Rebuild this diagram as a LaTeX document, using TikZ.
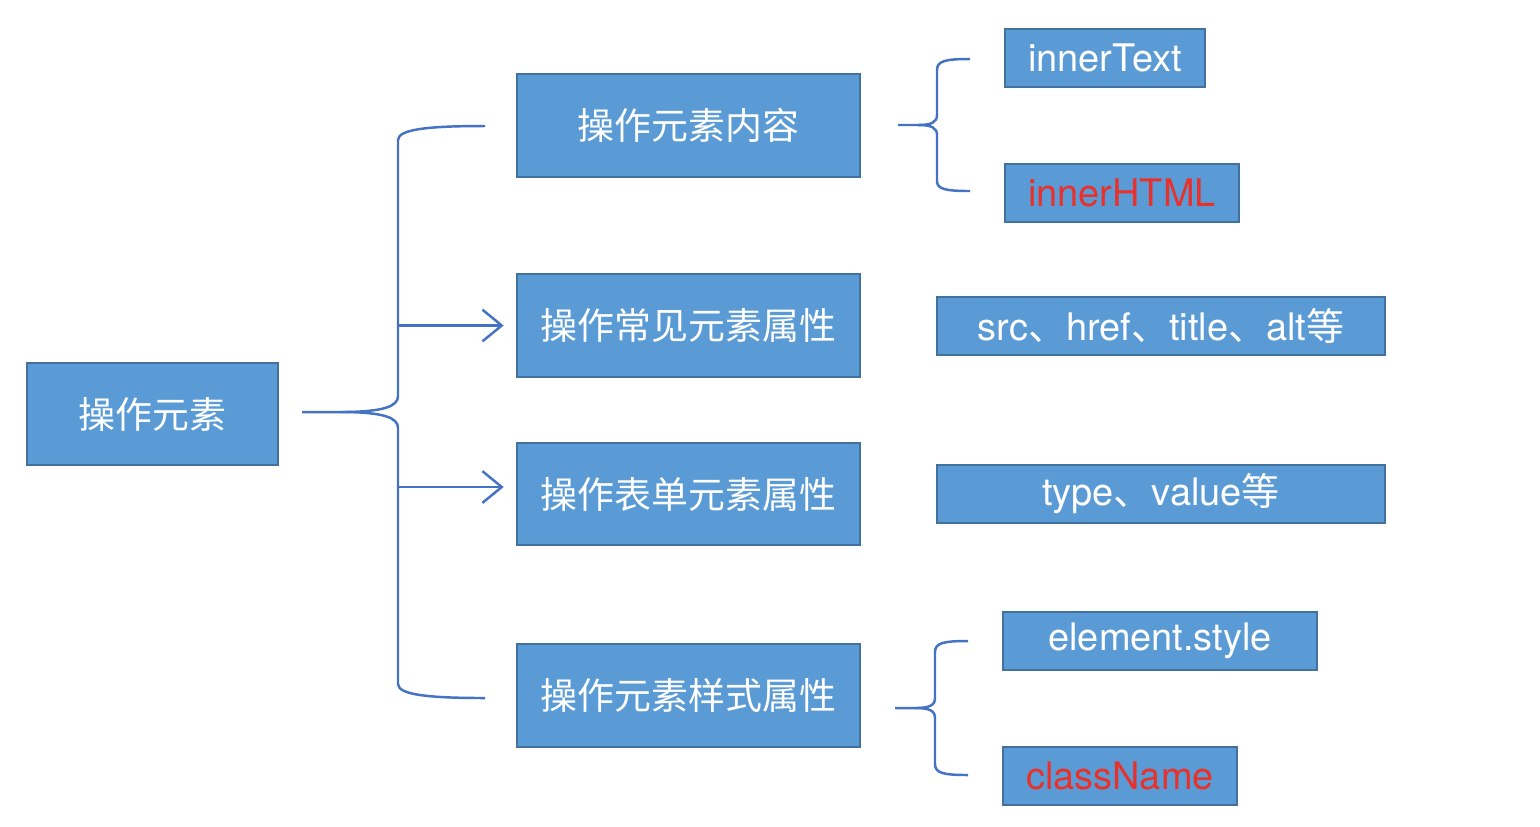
\documentclass[tikz,border=0pt]{standalone}
\usepackage{fontspec}
\setmainfont{TeX Gyre Heros}
\newfontfamily\cjk{Noto Sans CJK SC}
\usepackage{tikz}
\usetikzlibrary{arrows.meta}

\definecolor{boxfill}{HTML}{5B9BD5}
\definecolor{boxline}{HTML}{41719C}
\definecolor{linkline}{HTML}{4472C4}
\definecolor{hotred}{HTML}{E8312A}

\tikzset{
  box/.style={draw=boxline, fill=boxfill, text=white, line width=0.7pt, inner sep=0pt,
    font=\fontsize{10.5}{12}\selectfont\cjk},
  leaf/.style={box, font=\fontsize{10.8}{12}\selectfont},
  brace/.style={draw=linkline, line width=0.7pt},
  arr/.style={brace, -{Straight Barb[length=5.5pt, width=9pt]}, shorten >=3.4pt}
}

\begin{document}
\begin{tikzpicture}[x=0.01cm, y=-0.01cm]
        \useasboundingbox (0,0) rectangle (1540,826);

        % Root and first level
        \node[box, minimum width=2.51cm, minimum height=1.02cm] (root) at (152.5,414) {操作元素};
        \node[box, minimum width=3.43cm, minimum height=1.03cm] (content) at (688.5,125.5) {操作元素内容};
        \node[box, minimum width=3.43cm, minimum height=1.03cm] (common) at (688.5,325.5) {操作常见元素属性};
        \node[box, minimum width=3.43cm, minimum height=1.02cm] (form) at (688.5,494) {操作表单元素属性};
        \node[box, minimum width=3.43cm, minimum height=1.03cm] (style) at (688.5,695.5) {操作元素样式属性};

        % Second level
        \node[leaf, minimum width=2.00cm, minimum height=0.58cm] (itext) at (1105,58) {innerText};
        \node[leaf, text=hotred, minimum width=2.34cm, minimum height=0.58cm] (ihtml) at (1122,193) {innerHTML};
        \node[leaf, minimum width=4.48cm, minimum height=0.58cm] (attrs) at (1161,326) {src{\cjk 、}href{\cjk 、}title{\cjk 、}alt{\cjk 等}};
        \node[leaf, minimum width=4.48cm, minimum height=0.58cm] (fattrs) at (1161,494) {type{\cjk 、}value{\cjk 等}};
        \node[leaf, minimum width=3.14cm, minimum height=0.58cm] (estyle) at (1160,641) {element.style};
        \node[leaf, text=hotred, minimum width=2.34cm, minimum height=0.58cm] (cname) at (1120,776) {className};

        % Big brace from the root
        \coordinate (tip0) at (302,412);
        \coordinate (spine) at (398,412);
        \draw[brace] (tip0) -- (340,412) .. controls (385,412) and (398,406) .. (398,396) -- (398,140)
            .. controls (398,129) and (430,126) .. (485,126);
        \draw[brace] (340,412) .. controls (385,412) and (398,418) .. (398,428) -- (398,684)
            .. controls (398,695) and (430,698) .. (485,698);
        \draw[arr] (spine |- common.west) -- (common.west);
        \draw[arr] (spine |- 0,487) -- (form.west |- 0,487);

        % Brace for the content
        \coordinate (tip1) at (898,125);
        \draw[brace] (tip1) -- (918,125) .. controls (932,125) and (937,122) .. (937,115) -- (937,70)
            .. controls (937,61) and (945,59) .. (970,59);
        \draw[brace] (918,125) .. controls (932,125) and (937,128) .. (937,135) -- (937,181)
            .. controls (937,189) and (945,191) .. (970,191);

        % Brace for the style
        \coordinate (tip2) at (895,708);
        \draw[brace] (tip2) -- (915,708) .. controls (930,708) and (935,705) .. (935,698) -- (935,652)
            .. controls (935,643) and (943,641) .. (968,641);
        \draw[brace] (915,708) .. controls (930,708) and (935,711) .. (935,718) -- (935,764)
            .. controls (935,773) and (943,775) .. (968,775);
    \end{tikzpicture}
\end{document}
